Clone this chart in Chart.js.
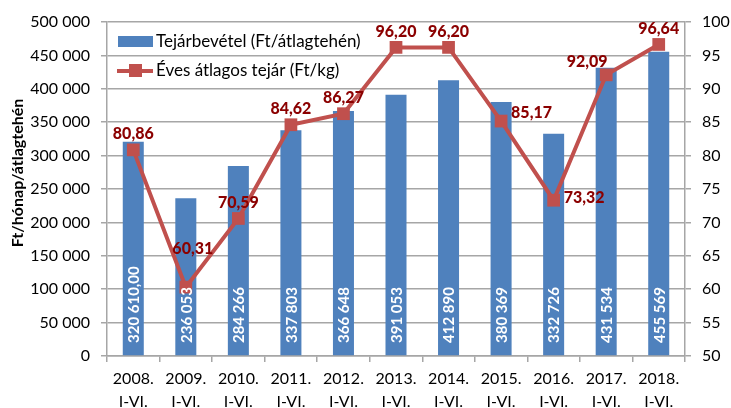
<!DOCTYPE html>
<html>
<head>
<meta charset="utf-8">
<script src="https://cdn.jsdelivr.net/npm/chart.js@4/dist/chart.umd.min.js"></script>
<style>
  html, body { margin: 0; padding: 0; background: #fff; }
  #wrap { width: 731px; height: 408px; }
</style>
</head>
<body>
<div id="wrap"><canvas id="myChart" width="731" height="408"></canvas></div>
<script>
const years = ['2008.', '2009.', '2010.', '2011.', '2012.', '2013.', '2014.', '2015.', '2016.', '2017.', '2018.'];
const period = 'I-VI.';
const revenue = [320610, 236053, 284266, 337803, 366648, 391053, 412890, 380369, 332726, 431534, 455569];
const revenueLabels = ['320 610,00', '236 053', '284 266', '337 803', '366 648', '391 053', '412 890', '380 369', '332 726', '431 534', '455 569'];
const milkPrice = [80.86, 60.31, 70.59, 84.62, 86.27, 96.20, 96.20, 85.17, 73.32, 92.09, 96.64];
const leftTicks = [0, 50000, 100000, 150000, 200000, 250000, 300000, 350000, 400000, 450000, 500000];
const rightTicks = [50, 55, 60, 65, 70, 75, 80, 85, 90, 95, 100];
const leftTitle = 'Ft/hónap/átlagtehén';

// where each price label sits relative to its point
const priceLabelPos = ['up', 'up2', 'up', 'up', 'up', 'up', 'up', 'right', 'right', 'upleft', 'up'];

const FONT = 'Lato, "Open Sans", sans-serif';
const BLUE = '#4F81BD';
const RED = '#C0504D';
const DARKRED = '#8B0000';
const GRID = '#A6A6A6';

const fmt = v => String(v).replace(/\B(?=(\d{3})+(?!\d))/g, ' ');

const labelsPlugin = {
    id: 'labels',
    afterDatasetsDraw(chart) {
        const ctx = chart.ctx;
        const area = chart.chartArea;
        // bar labels, vertical, white
        const bars = chart.getDatasetMeta(0).data;
        ctx.save();
        ctx.fillStyle = '#fff';
        ctx.font = 'bold 15px ' + FONT;
        bars.forEach((bar, i) => {
            ctx.save();
            ctx.translate(bar.x + 1, area.bottom - 13);
            ctx.rotate(-Math.PI / 2);
            ctx.textAlign = 'left';
            ctx.textBaseline = 'middle';
            ctx.fillText(revenueLabels[i], 0, 0);
            ctx.restore();
        });
        // line labels
        const pts = chart.getDatasetMeta(1).data;
        ctx.fillStyle = DARKRED;
        ctx.font = '900 16px ' + FONT;
        ctx.textBaseline = 'middle';
        pts.forEach((p, i) => {
            const txt = milkPrice[i].toFixed(2).replace('.', ',');
            let x = p.x, y = p.y, align = 'center';
            switch (priceLabelPos[i]) {
                case 'up': y -= 16; break;
                case 'up2': y -= 38; x += 7; break;
                case 'right': x += 10; y -= 8; align = 'left'; break;
                case 'upleft': x -= 19; y -= 13; break;
            }
            if (i === 8) y += 6;
            ctx.textAlign = align;
            ctx.fillText(txt, x, y);
        });
        ctx.restore();
    },
    afterDraw(chart) {
        const ctx = chart.ctx;
        ctx.save();
        // axis title
        ctx.fillStyle = '#000';
        ctx.font = 'bold 16px ' + FONT;
        ctx.translate(18, 173);
        ctx.rotate(-Math.PI / 2);
        ctx.textAlign = 'center';
        ctx.textBaseline = 'middle';
        ctx.fillText(leftTitle, 0, 0);
        ctx.restore();

        // legend inside plot area
        ctx.save();
        ctx.fillStyle = BLUE;
        ctx.fillRect(118, 36, 35, 11);
        ctx.strokeStyle = RED;
        ctx.lineWidth = 4;
        ctx.beginPath();
        ctx.moveTo(117, 71);
        ctx.lineTo(153, 71);
        ctx.stroke();
        ctx.fillStyle = RED;
        ctx.fillRect(129, 64, 13, 13);
        ctx.fillStyle = '#000';
        ctx.font = '17px ' + FONT;
        ctx.textAlign = 'left';
        ctx.textBaseline = 'middle';
        ctx.fillText(chart.data.datasets[0].label, 156, 42);
        ctx.fillText(chart.data.datasets[1].label, 156, 71);
        ctx.restore();
    }
};

const ctx = document.getElementById('myChart').getContext('2d');
const myChart = new Chart(ctx, {
    type: 'bar',
    data: {
        labels: years.map(y => [y, period]),
        datasets: [
            {
                type: 'bar',
                label: 'Tejárbevétel (Ft/átlagtehén)',
                data: revenue,
                backgroundColor: BLUE,
                borderWidth: 0,
                categoryPercentage: 1,
                barPercentage: 0.4,
                yAxisID: 'y',
                order: 2
            },
            {
                type: 'line',
                label: 'Éves átlagos tejár (Ft/kg)',
                data: milkPrice,
                borderColor: RED,
                backgroundColor: RED,
                borderWidth: 4,
                pointStyle: 'rect',
                pointRadius: 9,
                pointBorderWidth: 0,
                tension: 0,
                yAxisID: 'y1',
                order: 1
            }
        ]
    },
    options: {
        responsive: false,
        animation: false,
        layout: { padding: { top: 22, left: 0, right: 0, bottom: 0 } },
        plugins: {
            legend: { display: false },
            tooltip: { enabled: false }
        },
        scales: {
            x: {
                offset: true,
                grid: {
                    offset: true,
                    drawOnChartArea: false,
                    drawTicks: true,
                    tickLength: 6,
                    color: GRID,
                    lineWidth: 1.5
                },
                border: { color: GRID, width: 1.5 },
                ticks: {
                    color: '#000',
                    font: { family: FONT, size: 16, lineHeight: 1.4 },
                    padding: 6,
                    maxRotation: 0,
                    autoSkip: false
                },
                afterFit(scale) { scale.height = 52; }
            },
            y: {
                position: 'left',
                min: 0,
                max: 500000,
                afterBuildTicks(scale) { scale.ticks = leftTicks.map(v => ({ value: v })); },
                grid: {
                    color: GRID,
                    lineWidth: 1.5,
                    tickLength: 6
                },
                border: { color: GRID, width: 1.5 },
                ticks: {
                    color: '#000',
                    font: { family: FONT, size: 16 },
                    padding: 11,
                    callback: v => fmt(v)
                },
                afterFit(scale) { scale.width = 107; }
            },
            y1: {
                position: 'right',
                min: 50,
                max: 100,
                afterBuildTicks(scale) { scale.ticks = rightTicks.map(v => ({ value: v })); },
                grid: {
                    drawOnChartArea: false,
                    color: GRID,
                    lineWidth: 1.5,
                    tickLength: 6
                },
                border: { color: GRID, width: 1.5 },
                ticks: {
                    color: '#000',
                    font: { family: FONT, size: 16 },
                    padding: 11
                },
                afterFit(scale) { scale.width = 46; }
            }
        }
    },
    plugins: [labelsPlugin]
});
</script>
</body>
</html>
